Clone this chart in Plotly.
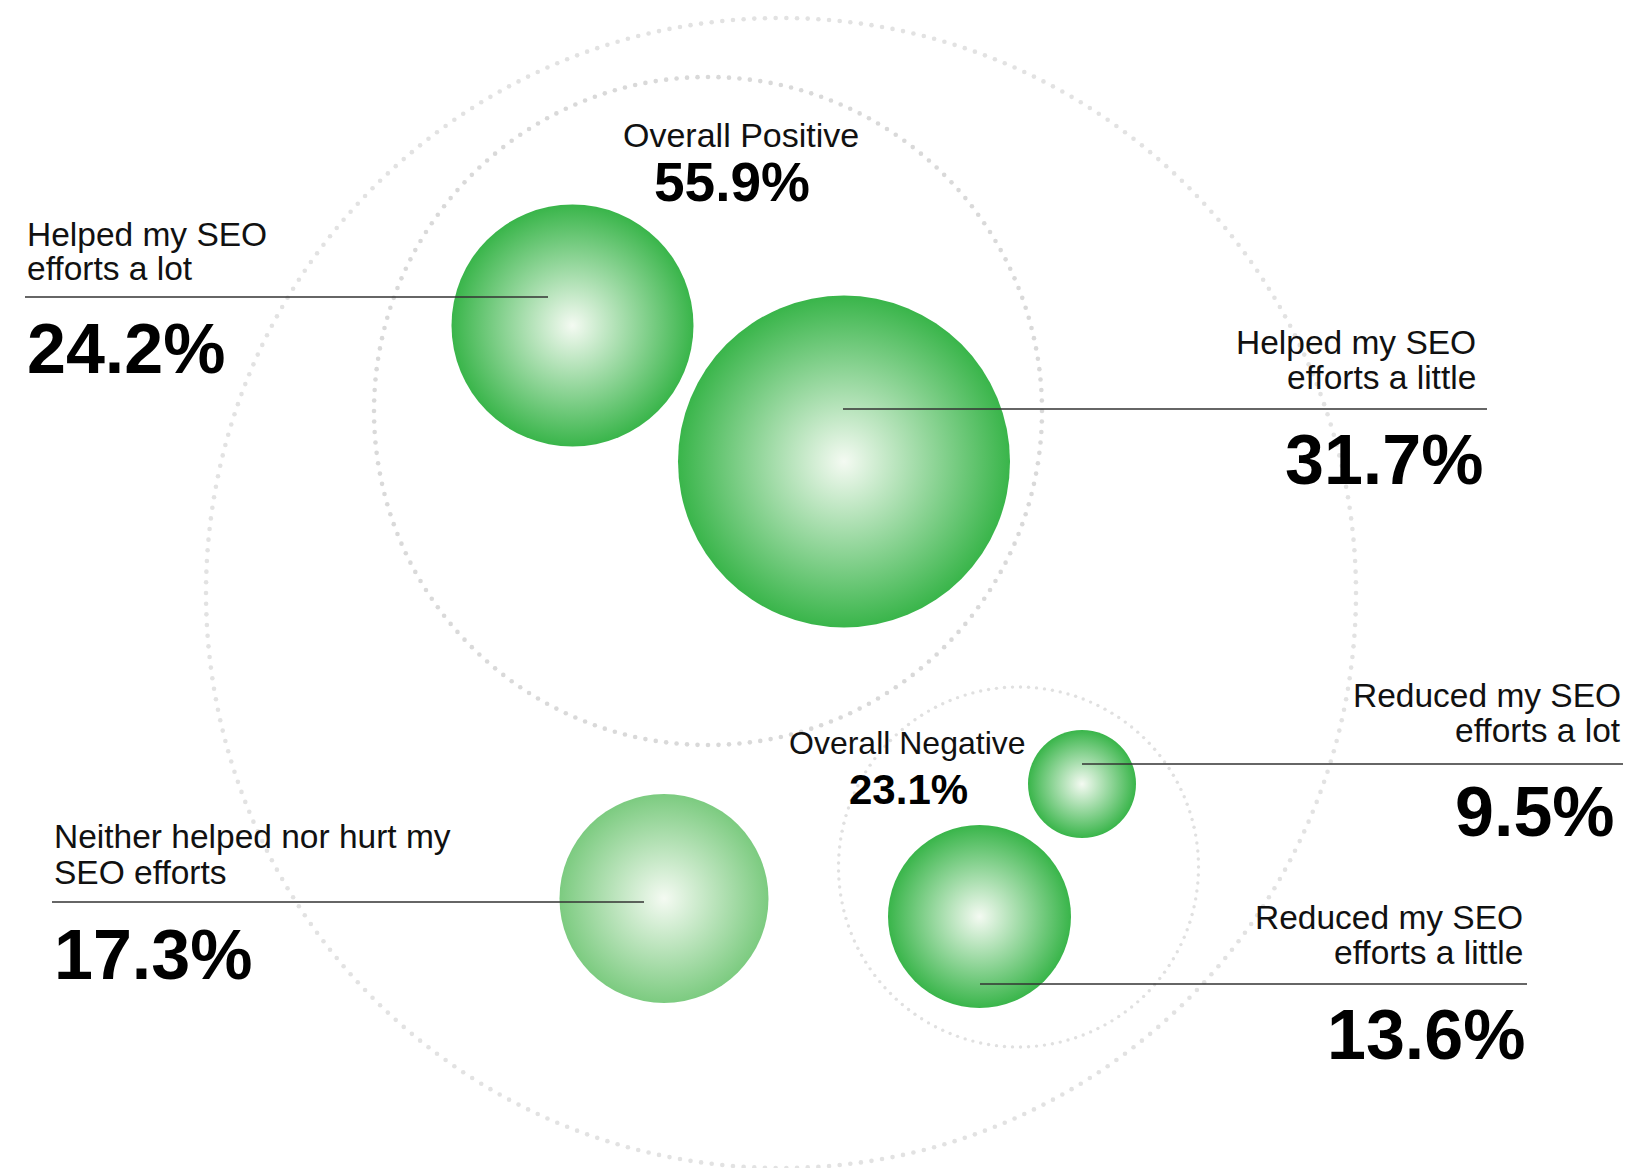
import numpy as np
import plotly.graph_objects as go

# ---------------- data ----------------
categories = [
    "Helped my SEO efforts a lot",
    "Helped my SEO efforts a little",
    "Neither helped nor hurt my SEO efforts",
    "Reduced my SEO efforts a lot",
    "Reduced my SEO efforts a little",
]
label_lines = [
    ["Helped my SEO", "efforts a lot"],
    ["Helped my SEO", "efforts a little"],
    ["Neither helped nor hurt my", "SEO efforts"],
    ["Reduced my SEO", "efforts a lot"],
    ["Reduced my SEO", "efforts a little"],
]
values = [24.2, 31.7, 17.3, 9.5, 13.6]
groups = ["Overall Positive", "Overall Negative"]
group_values = [55.9, 23.1]

# ---------------- layout / style (pixel canvas) ----------------
W, H = 1630, 1168
FONT = "Liberation Sans, Arial, Helvetica, sans-serif"
GREEN = "#39B54A"
GREEN_LIGHT = "#7CCB80"
CENTER = "#F4FAF2"
LABEL_SIZE = 33.5

bubble_cx = [572.5, 844, 664, 1082, 979.5]
bubble_cy = [325.5, 461.5, 898.5, 784, 916.5]
bubble_r = [121, 166, 104.5, 54, 91.5]
bubble_edge = [GREEN, GREEN, GREEN_LIGHT, GREEN, GREEN]

# callout layout: side, label x, line1 y, line2 y, rule y, rule x0, rule x1, value x, value y
callouts = [
    ("left", 25, 234, 268.5, 297, 25, 548, 25, 348.5),
    ("right", 1478, 342.5, 377.5, 409, 843, 1487, 1485, 459.5),
    ("left", 52, 836.5, 872, 902, 52, 644, 52, 955),
    ("right", 1623, 695.5, 730.5, 764, 1082, 1623, 1617, 812),
    ("right", 1525, 917, 952.5, 984, 980, 1527, 1527, 1035),
]
# group label: (label pos), (value pos), label size, value size
group_pos = [((741, 135), (732, 182), 34, 55), ((907, 743), (908, 789), 32, 42)]

# dotted guide circles: cx, cy, r, spacing, dot size, color
rings = [
    (781, 593, 575, 10.7, 4.6, "#E2E2E2"),
    (708, 411, 334, 10.5, 4.6, "#D9D9D9"),
    (1018.5, 867, 180, 8.0, 3.4, "#E0E0E0"),
]

fig = go.Figure()

for cx, cy, r, sp, ds, col in rings:
    n = int(round(2 * np.pi * r / sp))
    t = np.linspace(0, 2 * np.pi, n, endpoint=False)
    fig.add_trace(go.Scatter(
        x=cx + r * np.cos(t), y=cy + r * np.sin(t), mode="markers",
        marker=dict(size=ds, color=col, line=dict(width=0)),
        hoverinfo="skip", showlegend=False,
    ))

for i, v in enumerate(values):
    fig.add_trace(go.Scatter(
        x=[bubble_cx[i]], y=[bubble_cy[i]], mode="markers",
        marker=dict(size=2 * bubble_r[i], sizemode="diameter", color=bubble_edge[i],
                    line=dict(width=0),
                    gradient=dict(type="radial", color=CENTER)),
        name=categories[i], hovertemplate=f"{categories[i]}: {v}%<extra></extra>",
        showlegend=False,
    ))

annotations = []
shapes = []
for i, v in enumerate(values):
    side, lx, y1, y2, ry, rx0, rx1, vx, vy = callouts[i]
    anchor = "left" if side == "left" else "right"
    for txt, yy in zip(label_lines[i], (y1, y2)):
        annotations.append(dict(x=lx, y=yy, xref="x", yref="y", text=txt, showarrow=False,
                                xanchor=anchor, yanchor="middle", align=anchor,
                                font=dict(family=FONT, size=LABEL_SIZE, color="#111111")))
    annotations.append(dict(x=vx, y=vy, xref="x", yref="y", text=f"<b>{v}%</b>", showarrow=False,
                            xanchor=anchor, yanchor="middle", align=anchor,
                            font=dict(family=FONT, size=70, color="#000000")))
    shapes.append(dict(type="line", xref="x", yref="y", x0=rx0, x1=rx1, y0=ry, y1=ry,
                       line=dict(color="#333333", width=1.6), layer="above"))

for g, gv, (lp, vp, ls, vs) in zip(groups, group_values, group_pos):
    annotations.append(dict(x=lp[0], y=lp[1], xref="x", yref="y", text=g, showarrow=False,
                            xanchor="center", yanchor="middle",
                            font=dict(family=FONT, size=ls, color="#111111")))
    annotations.append(dict(x=vp[0], y=vp[1], xref="x", yref="y", text=f"<b>{gv}%</b>", showarrow=False,
                            xanchor="center", yanchor="middle",
                            font=dict(family=FONT, size=vs, color="#000000")))

fig.update_layout(
    width=W, height=H, margin=dict(l=0, r=0, t=0, b=0),
    paper_bgcolor="white", plot_bgcolor="white",
    xaxis=dict(range=[0, W], visible=False, fixedrange=True),
    yaxis=dict(range=[H, 0], visible=False, fixedrange=True),
    annotations=annotations, shapes=shapes, showlegend=False,
)

fig.write_html("out.html")
